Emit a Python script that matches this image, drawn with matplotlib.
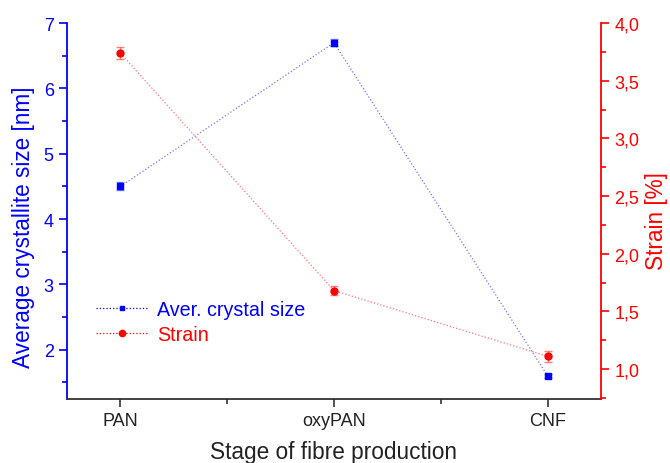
import matplotlib
matplotlib.use("Agg")
import matplotlib.pyplot as plt
import numpy as np

plt.rcParams['font.family'] = ['Liberation Sans', 'DejaVu Sans']

# Data
stages = ["PAN", "oxyPAN", "CNF"]
crystal_size = [4.50, 6.70, 1.60]
crystal_err = [0.06, 0.05, 0.03]
strain = [3.74, 1.68, 1.11]
strain_err = [0.05, 0.04, 0.05]

blue = "#0000FF"
red = "#FF0000"

x = np.arange(1, len(stages) + 1)

fig, ax = plt.subplots(figsize=(6.7, 4.64), dpi=100)
fig.subplots_adjust(left=0.10, right=0.897, top=0.948, bottom=0.138)
ax2 = ax.twinx()

# crystal size (left axis)
ax.plot(x, crystal_size, ':', color=blue, lw=0.9, alpha=0.55)
ax.errorbar(x, crystal_size, yerr=crystal_err, fmt='none', ecolor=blue,
            elinewidth=0.8, capsize=3, alpha=0.5)
ax.plot(x, crystal_size, 's', color=blue, ms=4, ls='none')
h1, = ax.plot([], [], ':s', color=blue, ms=3.5, lw=0.9, label="Aver. crystal size")

# strain (right axis)
ax2.plot(x, strain, ':', color=red, lw=0.9, alpha=0.55)
ax2.errorbar(x, strain, yerr=strain_err, fmt='none', ecolor=red,
             elinewidth=0.8, capsize=3, alpha=0.5)
ax2.plot(x, strain, 'o', color=red, ms=5, ls='none')
h2, = ax2.plot([], [], ':o', color=red, ms=4.5, lw=0.9, label="Strain")

ax.set_xlim(0.75, 3.25)
ax.set_ylim(1.245, 7.0)
ax2.set_ylim(0.74, 4.0)

ax.set_xticks(x)
ax.set_xticklabels(stages)
ax.set_xticks([1.5, 2.5], minor=True)
ax.set_yticks([2, 3, 4, 5, 6, 7])
ax.set_yticks([1.5, 2.5, 3.5, 4.5, 5.5, 6.5], minor=True)
ax2.set_yticks([1.0, 1.5, 2.0, 2.5, 3.0, 3.5, 4.0])
ax2.set_yticklabels([f"{v:.1f}".replace('.', ',') for v in [1.0, 1.5, 2.0, 2.5, 3.0, 3.5, 4.0]])
ax2.set_yticks([0.75, 1.25, 1.75, 2.25, 2.75, 3.25, 3.75], minor=True)

ax.set_xlabel("Stage of fibre production", fontsize=16.3, color="#222222", labelpad=8)
ax.set_ylabel("Average crystallite size [nm]", fontsize=16.3, color=blue, labelpad=6)
ax2.set_ylabel("Strain [%]", fontsize=16.3, color=red, labelpad=4)
ax.yaxis.label.set_y(0.46)
ax2.yaxis.label.set_y(0.476)

for a in (ax, ax2):
    a.spines['top'].set_visible(False)
ax.spines['right'].set_visible(False)
ax2.spines['left'].set_visible(False)
ax2.spines['bottom'].set_visible(False)
ax.spines['left'].set_color(blue)
ax.spines['bottom'].set_color("#333333")
ax2.spines['right'].set_color(red)
for s in ('left', 'bottom'):
    ax.spines[s].set_linewidth(1.3)
ax2.spines['right'].set_linewidth(1.3)

ax.tick_params(axis='y', which='both', colors=blue, labelsize=13, direction='out', width=1.2)
ax.tick_params(axis='y', which='major', length=6)
ax.tick_params(axis='y', which='minor', length=3.5)
ax.tick_params(axis='x', which='both', colors="#333333", labelcolor="#222222",
               labelsize=13, direction='out', width=1.2)
ax.tick_params(axis='x', which='major', length=6)
ax.tick_params(axis='x', which='minor', length=3.5)
ax2.tick_params(axis='y', which='both', colors=red, labelsize=13, direction='out', width=1.2)
ax2.tick_params(axis='y', which='major', length=6)
ax2.tick_params(axis='y', which='minor', length=3.5)

leg = ax.legend(handles=[h1, h2], loc='lower left', bbox_to_anchor=(0.022, 0.1),
                frameon=False, fontsize=14.2, handlelength=2.6, handletextpad=0.45,
                labelspacing=0.3)
leg.get_texts()[0].set_color(blue)
leg.get_texts()[1].set_color(red)

fig.savefig("out.png", dpi=100)
